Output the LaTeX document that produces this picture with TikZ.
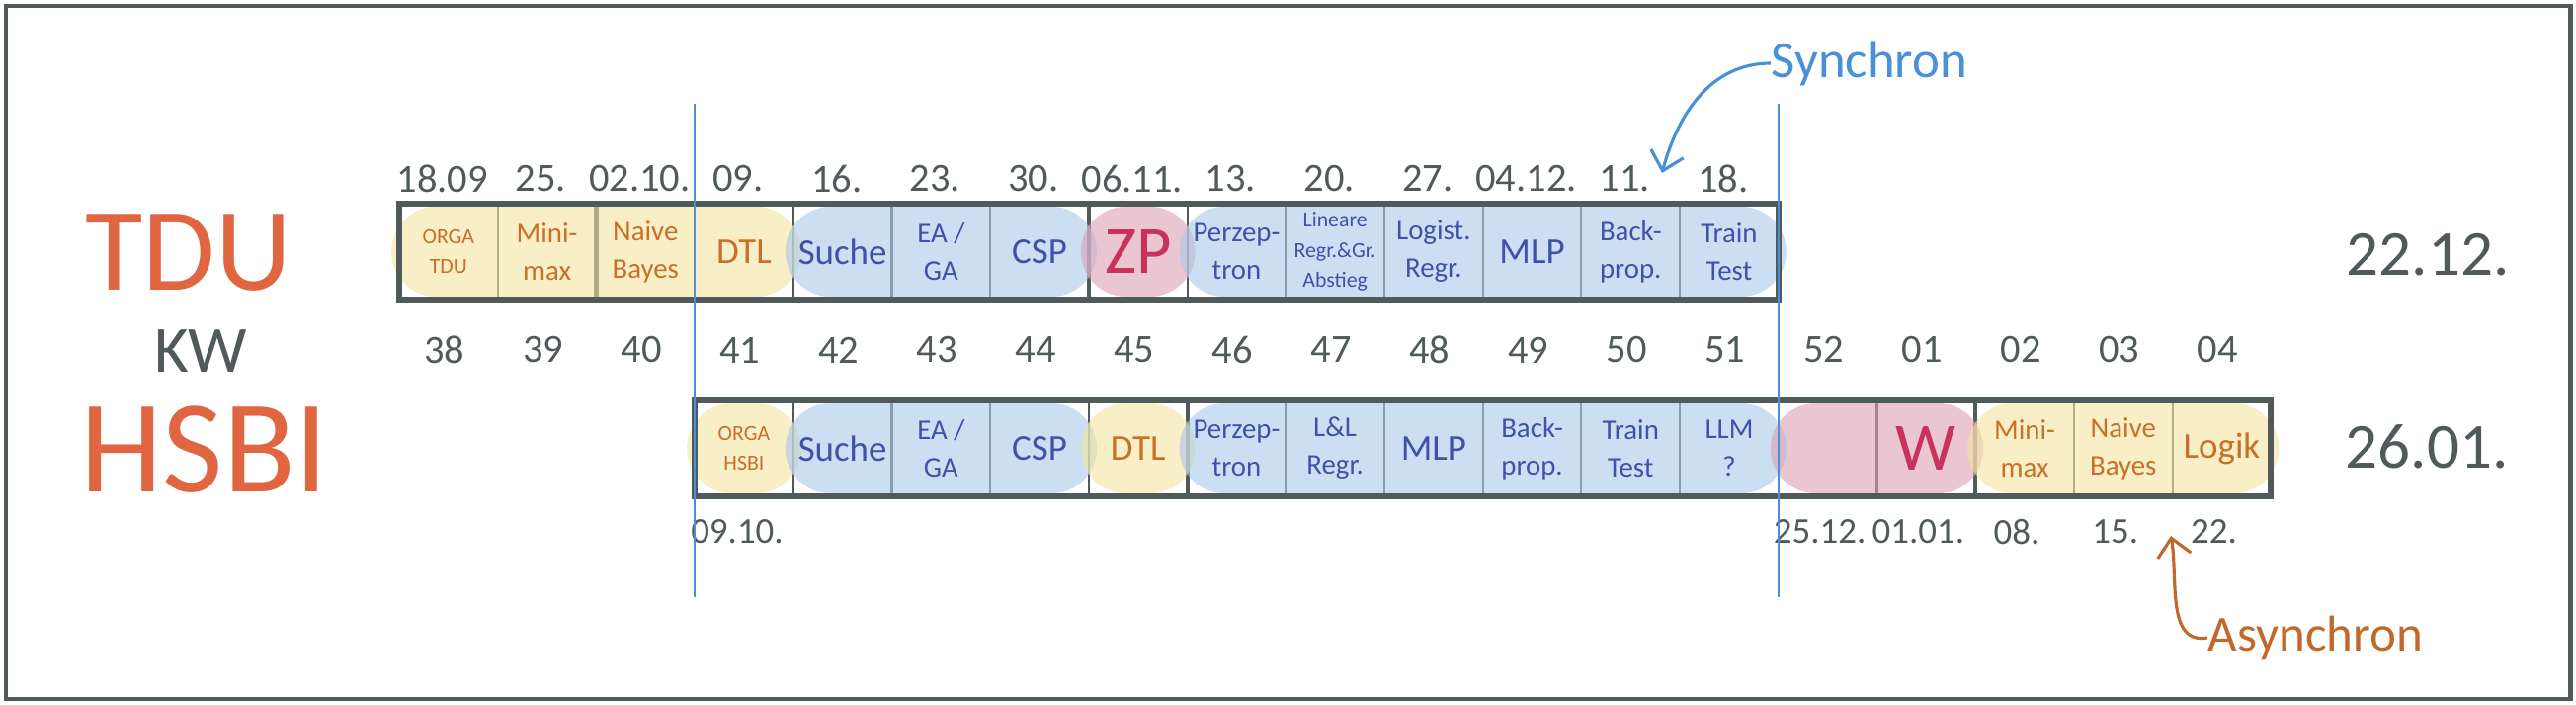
\documentclass[tikz,border=0pt]{standalone}
\usepackage{fontspec}
\setmainfont{Carlito}
\usetikzlibrary{arrows.meta}
\definecolor{slate}{RGB}{80,90,90}
\definecolor{headorange}{RGB}{224,102,66}
\definecolor{yelfill}{RGB}{243,228,160}
\definecolor{bluefill}{RGB}{170,200,232}
\definecolor{pinkfill}{RGB}{220,160,182}
\definecolor{yeltext}{RGB}{200,112,42}
\definecolor{bluetext}{RGB}{62,82,168}
\definecolor{pinktext}{RGB}{200,50,92}
\definecolor{syncblue}{RGB}{74,144,217}
\definecolor{asyncorange}{RGB}{192,105,42}
\def\cellw{99.7}

\begin{document}
\begin{tikzpicture}[x=0.01cm,y=-0.01cm,
  every node/.style={inner sep=0pt,align=center,text=slate},
  tmd/.style={font=\fontsize{10.5}{12}\selectfont},
  tsm/.style={font=\fontsize{8.2}{10.8}\selectfont},
  txs/.style={font=\fontsize{6.2}{8.6}\selectfont},
  tlg/.style={font=\fontsize{19.5}{20}\selectfont},
  datum/.style={font=\fontsize{11.5}{12}\selectfont},
  blob/.style={fill opacity=.6,rounded corners=0.455cm},
  rowbox/.style={draw=slate,line width=1.7pt},
  divider/.style={draw=slate,line width=0.6pt},
  thickdiv/.style={draw=slate,line width=1.2pt},
  syncline/.style={draw=syncblue,line width=0.6pt},
  hint/.style={line width=0.9pt,-{Straight Barb[length=1.8mm,width=3.4mm]}}]
\useasboundingbox (0,0) rectangle (2607,713);
\draw[slate,line width=1.4pt] (6,6) rectangle (2601,707);

\node[text=headorange,font=\fontsize{34}{34}\selectfont] (tdu) at (191,256) {TDU};
\node[font=\fontsize{19}{19}\selectfont] (kw) at (203,355) {KW};
\node[text=headorange,font=\fontsize{38}{38}\selectfont] (hsbi) at (207,455) {HSBI};

\foreach \i in {1,...,13} \draw[divider] ({404+\i*\cellw},206) -- ({404+\i*\cellw},303);
\foreach \i in {2,7} \draw[thickdiv] ({404+\i*\cellw},206) -- ({404+\i*\cellw},303);
\foreach \a/\b/\c in {1/4/yelfill,5/7/bluefill,8/8/pinkfill,9/14/bluefill}
  \fill[blob,\c] ({404+(\a-1)*\cellw-8},209) rectangle ({404+\b*\cellw+8},300);
\draw[rowbox] (404,206) rectangle ({404+14*\cellw},303);

\foreach \i in {4,...,18} \draw[divider] ({404+\i*\cellw},405) -- ({404+\i*\cellw},502);
\foreach \i in {8,16} \draw[thickdiv] ({404+\i*\cellw},405) -- ({404+\i*\cellw},502);
\foreach \a/\b/\c in {4/4/yelfill,5/7/bluefill,8/8/yelfill,9/14/bluefill,15/16/pinkfill,17/19/yelfill}
  \fill[blob,\c] ({404+(\a-1)*\cellw-8},408) rectangle ({404+\b*\cellw+8},499);
\draw[rowbox] ({404+3*\cellw},405) rectangle ({404+19*\cellw},502);

\foreach \t/\c/\s [count=\i] in {{ORGA\\TDU}/yeltext/txs,{Mini-\\max}/yeltext/tsm,{Naive\\Bayes}/yeltext/tsm,DTL/yeltext/tmd,
  Suche/bluetext/tmd,{EA /\\GA}/bluetext/tsm,CSP/bluetext/tmd,ZP/pinktext/tlg,{Perzep-\\tron}/bluetext/tsm,
  {Lineare\\Regr.\&Gr.\\Abstieg}/bluetext/txs,{Logist.\\Regr.}/bluetext/tsm,MLP/bluetext/tmd,{Back-\\prop.}/bluetext/tsm,{Train\\Test}/bluetext/tsm}
  \node[\s,text=\c] (t\i) at ({404+(\i-.5)*\cellw},254.5) {\t};
\foreach \t/\c/\s [count=\i] in {{ORGA\\HSBI}/yeltext/txs,Suche/bluetext/tmd,{EA /\\GA}/bluetext/tsm,CSP/bluetext/tmd,DTL/yeltext/tmd,
  {Perzep-\\tron}/bluetext/tsm,{L\&L\\Regr.}/bluetext/tsm,MLP/bluetext/tmd,{Back-\\prop.}/bluetext/tsm,{Train\\Test}/bluetext/tsm,
  {LLM\\?}/bluetext/tsm,{}/pinktext/tmd,W/pinktext/tlg,{Mini-\\max}/yeltext/tsm,{Naive\\Bayes}/yeltext/tsm,Logik/yeltext/tmd}
  \node[\s,text=\c] (h\i) at ({404+(\i+2.5)*\cellw},453.5) {\t};

\foreach \d [count=\i] in {18.09,25.,02.10.,09.,16.,23.,30.,06.11.,13.,20.,27.,04.12.,11.,18.}
  \node[datum] (d\i) at ({398+(\i-.5)*\cellw},181) {\d};
\foreach \k [count=\i] in {38,39,40,41,42,43,44,45,46,47,48,49,50,51,52,01,02,03,04}
  \node[datum] (k\i) at ({400+(\i-.5)*\cellw},354) {\k};
\node[datum,font=\fontsize{10.5}{11}\selectfont] (b0) at (746,538) {09.10.};
\foreach \d [count=\i from 15] in {25.12.,01.01.,08.,15.,22.}
  \node[datum,font=\fontsize{10.5}{11}\selectfont] (b\i) at ({396+(\i-.5)*\cellw},538) {\d};

\node[font=\fontsize{18.5}{19}\selectfont] (endtdu) at (2457,258) {22.12.};
\node[font=\fontsize{18.5}{19}\selectfont] (endhsbi) at (2456,452) {26.01.};

\draw[syncline] ({404+3*\cellw},105) -- ({404+3*\cellw},604);
\draw[syncline] ({404+14*\cellw},105) -- ({404+14*\cellw},604);

\node[text=syncblue,anchor=west,font=\fontsize{15}{15}\selectfont] (syn) at (1792,64) {Synchron};
\coordinate (synend) at (1682,175);
\draw[hint,syncblue] (syn.west) to[out=180,in=75] (synend);
\node[text=asyncorange,anchor=west,font=\fontsize{14.5}{15}\selectfont] (asyn) at (2234,645) {Asynchron};
\coordinate (asynend) at (2197,542);
\draw[hint,asyncorange] (asyn.west) to[out=190,in=-80] (asynend);
\end{tikzpicture}
\end{document}
